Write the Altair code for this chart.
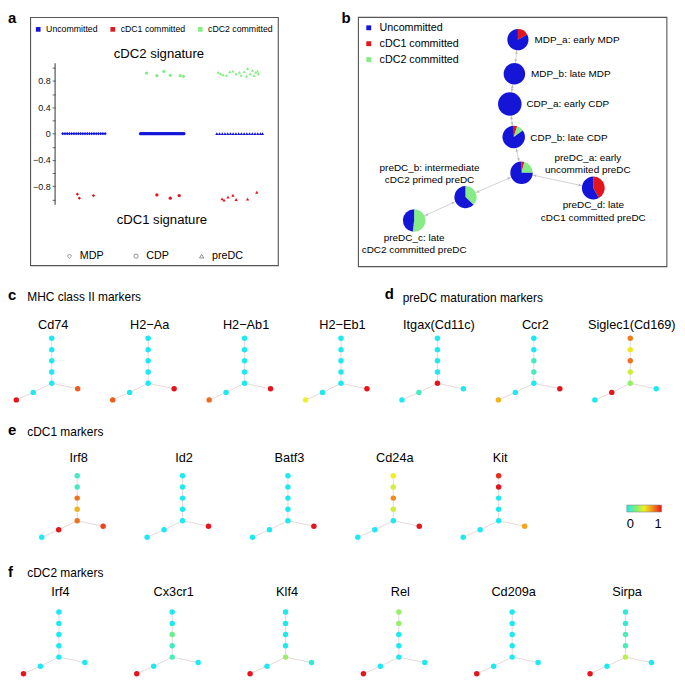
import math
import altair as alt
import pandas as pd

FONT = "Liberation Sans"
KX, KY = 0.985, 0.98

# ---------------- panel a : signature scores ----------------
COMMIT = ["Uncommitted", "cDC1 committed", "cDC2 committed"]
COMMIT_COLORS = ["#1515D8", "#E3141B", "#86EC86"]
STAGES = ["MDP", "CDP", "preDC"]
STAGE_SHAPES = ["diamond", "circle", "triangle-up"]

MDP_UNC_X = [13.0, 13.9, 14.8, 15.7, 16.6, 17.5, 18.4, 19.3, 20.2, 21.1, 22.0, 22.9,
             23.8, 24.7, 25.6, 26.5, 27.4, 28.3, 29.2, 30.1]
MDP_C1_X = [18.9, 19.7, 25.4]
MDP_C1_Y = [-0.92, -0.98, -0.94]
CDP_UNC_X = [44.4, 44.9, 45.4, 45.9, 46.4, 46.9, 47.4, 47.9, 48.4, 48.9, 49.4, 49.9,
             50.4, 50.9, 51.4, 51.9, 52.4, 52.9, 53.4, 53.9, 54.4, 54.9, 55.4, 55.9,
             56.4, 56.9, 57.4, 57.9, 58.4, 58.9, 59.4, 59.9, 60.4, 60.9, 61.4, 61.9]
CDP_C1_X = [51.0, 56.4, 60.0]
CDP_C1_Y = [-0.93, -0.98, -0.94]
CDP_C2_X = [46.8, 51.0, 53.8, 56.4, 60.4, 61.7]
CDP_C2_Y = [0.92, 0.88, 0.945, 0.885, 0.88, 0.87]
PRE_UNC_X = [75.2, 76.3, 77.4, 78.5, 79.6, 80.7, 81.8, 82.9, 84.0, 85.1, 86.2, 87.3,
             88.4, 89.5, 90.6, 91.7, 92.8, 93.6]
PRE_C1_X = [77.3, 78.1, 79.7, 81.7, 83.0, 87.6, 91.3]
PRE_C1_Y = [-0.99, -1.01, -0.965, -0.935, -1.0, -0.995, -0.89]
PRE_C2_X = [75.8, 76.7, 77.7, 79.1, 80.4, 81.7, 83.0, 84.3, 85.0, 86.3, 87.2, 87.6,
            88.7, 89.6, 90.2, 90.9, 91.6, 92.0]
PRE_C2_Y = [0.93, 0.91, 0.895, 0.885, 0.94, 0.95, 0.91, 0.93, 0.885, 0.94, 0.875, 0.99,
            0.91, 0.96, 0.88, 0.93, 0.95, 0.91]
SIG_TICKS = [-1.0, -0.8, -0.6, -0.4, -0.2, 0.0, 0.2, 0.4, 0.6, 0.8, 1.0]
SIG_TITLES = ["cDC2 signature", "cDC1 signature"]

# ---------------- panel b : lineage tree with pies ----------------
NODES = ["MDP_a", "MDP_b", "CDP_a", "CDP_b", "preDC_a", "preDC_b", "preDC_c", "preDC_d"]
NODE_X = [163.3, 159.7, 155.0, 159.0, 167.0, 109.7, 57.3, 240.3]   # graph layout
NODE_Y = [23.3, 58.3, 89.3, 123.3, 160.0, 185.0, 209.0, 175.7]
PARENT = [None, 0, 1, 2, 3, 4, 5, 4]
FRAC_C1 = [0.17, 0.0, 0.0, 0.05, 0.04, 0.0, 0.0, 0.42]
FRAC_C2 = [0.0, 0.0, 0.0, 0.10, 0.21, 0.37, 0.52, 0.0]
CELLS = [117, 121, 144, 132, 132, 128, 132, 137]
NODE_LABELS = ["MDP_a: early MDP", "MDP_b: late MDP", "CDP_a: early CDP", "CDP_b: late CDP",
               "preDC_a: early\nuncommited preDC", "preDC_b: intermediate\ncDC2 primed preDC",
               "preDC_c: late\ncDC2 committed preDC", "preDC_d: late\ncDC1 committed preDC"]

# ---------------- panels c-f : marker expression on the tree ----------------
TREE_X = [0, 0, 0, 0, 0, -18.9, -36.2, 26.5]
TREE_Y = [0, 11.6, 23.0, 34.5, 46.2, 55.5, 63.2, 51.8]
HEAT_STOPS = [0, 0.25, 0.5, 0.75, 1]
HEAT_COLORS = ["#1DE9F0", "#7EEF78", "#EFEF22", "#F48A1E", "#E6141C"]
HEAT_LABELS = [0, 1]

ROW_CD_GENES = ["Cd74", "H2\u2212Aa", "H2\u2212Ab1", "H2\u2212Eb1", "Itgax(Cd11c)", "Ccr2", "Siglec1(Cd169)"]
ROW_CD_VALUES = [
    [0, 0, 0, 0, 0, 0, 1.0, 0.85],
    [0, 0, 0, 0, 0, 0, 0.85, 1.0],
    [0, 0, 0, 0, 0, 0, 0.82, 1.0],
    [0, 0, 0, 0, 0, 0, 0.5, 1.0],
    [0, 0, 0, 0, 1.0, 0.1, 0, 0],
    [0, 0, 0.1, 0.1, 0, 0, 0.65, 1.0],
    [0.78, 0.52, 0.8, 0.42, 0.3, 1.0, 0, 0],
]
ROW_E_GENES = ["Irf8", "Id2", "Batf3", "Cd24a", "Kit"]
ROW_E_VALUES = [
    [0.1, 0.1, 0.8, 0.65, 0.8, 1.0, 0, 0.9],
    [0, 0, 0, 0, 0, 0, 0, 1.0],
    [0, 0, 0, 0, 0, 0, 0, 1.0],
    [0.5, 0.43, 0.75, 0.43, 0, 0, 0, 1.0],
    [0.95, 1.0, 0, 0, 0, 0, 0, 0.68],
]
ROW_F_GENES = ["Irf4", "Cx3cr1", "Klf4", "Rel", "Cd209a", "Sirpa"]
ROW_F_VALUES = [
    [0, 0, 0, 0, 0, 0, 1.0, 0],
    [0, 0, 0.2, 0.1, 0.12, 0, 1.0, 0],
    [0, 0, 0, 0, 0.3, 0, 1.0, 0.05],
    [0.3, 0.3, 0, 0, 0, 0, 1.0, 0],
    [0, 0, 0, 0, 0, 0, 1.0, 0],
    [0.05, 0.05, 0.12, 0.12, 0.38, 0, 1.0, 0],
]
SECTION_TITLES = {"c": "MHC class II markers", "d": "preDC maturation markers",
                  "e": "cDC1 markers", "f": "cDC2 markers"}

COMMIT_SCALE = alt.Scale(domain=COMMIT, range=COMMIT_COLORS)
HEAT = alt.Scale(domain=HEAT_STOPS, range=HEAT_COLORS, interpolate="rgb")
BOX = "#555555"


def txt(s):
    return pd.DataFrame({"t": [s]})


def letter(s, x, y):
    return alt.Chart(txt(s)).mark_text(
        align="left", baseline="alphabetic", fontSize=15, fontWeight="bold", font=FONT
    ).encode(text="t:N", x=alt.value(x), y=alt.value(y))


# ======== panel a ========
rows = []
def add(stage, commit, xs, ys):
    for xv, yv in zip(xs, ys):
        rows.append(dict(stage=stage, commit=commit, x=xv, y=yv))

add("MDP", "Uncommitted", MDP_UNC_X, [0.0] * len(MDP_UNC_X))
add("MDP", "cDC1 committed", MDP_C1_X, MDP_C1_Y)
add("CDP", "Uncommitted", CDP_UNC_X, [0.0] * len(CDP_UNC_X))
add("CDP", "cDC1 committed", CDP_C1_X, CDP_C1_Y)
add("CDP", "cDC2 committed", CDP_C2_X, CDP_C2_Y)
add("preDC", "Uncommitted", PRE_UNC_X, [0.0] * len(PRE_UNC_X))
add("preDC", "cDC1 committed", PRE_C1_X, PRE_C1_Y)
add("preDC", "cDC2 committed", PRE_C2_X, PRE_C2_Y)
df_a = pd.DataFrame(rows)

LEFT_A = 22.7            # room for the panel letter, left of the frame
BOX_W, H_A = 249.2, 250.8
W_A = LEFT_A + BOX_W
PX_PER_UNIT = BOX_W / 100
AXIS_X = 9.9
xa = alt.Scale(domain=[-LEFT_A / PX_PER_UNIT, 100], nice=False, zero=False)
ya = alt.Scale(domain=[-2.014, 1.772], nice=False, zero=False)
AX_A = alt.Axis(values=SIG_TICKS,
                labelExpr="abs(round(datum.value*10)) % 4 == 0 ? format(datum.value, '.1~f') : ''",
                offset=-(LEFT_A + AXIS_X * PX_PER_UNIT), domain=False, grid=False, tickSize=3,
                tickColor="#444", tickWidth=0.8, labelFontSize=9, labelFont=FONT,
                labelPadding=2, title=None, labelColor="#111")

frame_a = alt.Chart(pd.DataFrame({"x0": [0], "x1": [100]})).mark_rect(
    fillOpacity=0, stroke=BOX, strokeWidth=1.1).encode(
    x=alt.X("x0:Q", scale=xa, axis=None), x2="x1:Q", y=alt.value(0.6), y2=alt.value(H_A - 0.6))

points = alt.Chart(df_a).mark_point(filled=True, size=11, opacity=1).encode(
    x=alt.X("x:Q", scale=xa, axis=None),
    y=alt.Y("y:Q", scale=ya, axis=AX_A),
    color=alt.Color("commit:N", scale=COMMIT_SCALE, legend=alt.Legend(
        orient="none", legendX=LEFT_A + 3.3, legendY=7.7, direction="horizontal", columns=3,
        title=None, symbolType="square", symbolSize=22, labelFontSize=8.8, labelFont=FONT,
        columnPadding=10, labelOffset=3.5, symbolStrokeWidth=0)),
    shape=alt.Shape("stage:N", scale=alt.Scale(domain=STAGES, range=STAGE_SHAPES), legend=alt.Legend(
        orient="none", legendX=LEFT_A + 33.7, legendY=234.8, direction="horizontal", columns=3,
        title=None, symbolSize=18, symbolFillColor="white", symbolStrokeColor="#777",
        symbolStrokeWidth=0.8, labelFontSize=10.8, labelFont=FONT, columnPadding=27,
        labelOffset=5)),
)
axis_line = alt.Chart(pd.DataFrame({"ax": [AXIS_X], "y0": [-1.08], "y1": [1.07]})).mark_rule(
    color="#444", strokeWidth=1.1).encode(
    x=alt.X("ax:Q", scale=xa, axis=None), y=alt.Y("y0:Q", scale=ya, axis=AX_A), y2="y1:Q")


def sig_title(s, xv, yv):
    d = pd.DataFrame({"t": [s], "x": [xv], "y": [yv]})
    return alt.Chart(d).mark_text(fontSize=13.2, font=FONT, baseline="middle").encode(
        text="t:N", x=alt.X("x:Q", scale=xa, axis=None), y=alt.Y("y:Q", scale=ya, axis=AX_A))


panel_a = alt.layer(
    frame_a, axis_line, points,
    sig_title(SIG_TITLES[0], 51.8, 1.213),
    sig_title(SIG_TITLES[1], 53.0, -1.317),
    letter("a", 0, 6),
).properties(width=W_A, height=H_A)

# ======== panel b ========
W_B, H_B = 310.3, 250.8
xb = alt.Scale(domain=[0, 315], nice=False, zero=False)
yb = alt.Scale(domain=[0, 256], nice=False, zero=False, reverse=True)
R_MAX = 11.8

pie_rows, edge_rows, arrow_rows = [], [], []
for i, n in enumerate(NODES):
    fr = [FRAC_C1[i], FRAC_C2[i], 1 - FRAC_C1[i] - FRAC_C2[i]]
    start = 0.0
    for c, f in zip(["cDC1 committed", "cDC2 committed", "Uncommitted"], fr):
        if f > 0:
            pie_rows.append(dict(node=n, commit=c, t0=2 * math.pi * start,
                                 t1=2 * math.pi * (start + f), x=NODE_X[i], y=NODE_Y[i],
                                 cells=CELLS[i]))
        start += f
    p = PARENT[i]
    if p is not None:
        edge_rows.append(dict(x=NODE_X[i], y=NODE_Y[i], px=NODE_X[p], py=NODE_Y[p]))
        dx, dy = NODE_X[i] - NODE_X[p], NODE_Y[i] - NODE_Y[p]
        d = math.hypot(dx, dy)
        ux, uy = dx / d, dy / d
        for tgt, sgn in ((i, -1), (p, 1)):
            r = R_MAX * math.sqrt(CELLS[tgt] / 144) + 3
            ax_ = NODE_X[tgt] + sgn * ux * r
            ay_ = NODE_Y[tgt] + sgn * uy * r
            vx, vy = -sgn * ux, -sgn * uy   # direction the arrow points
            ang = (math.degrees(math.atan2(vx, -vy)) + 360) % 360
            arrow_rows.append(dict(x=ax_, y=ay_, ang=ang))

df_pie = pd.DataFrame(pie_rows)
df_edge = pd.DataFrame(edge_rows)
df_arrow = pd.DataFrame(arrow_rows)
df_nodes = pd.DataFrame({"node": NODES, "x": NODE_X, "y": NODE_Y, "label": NODE_LABELS})

XB = lambda: alt.X("x:Q", scale=xb, axis=None)
YB = lambda: alt.Y("y:Q", scale=yb, axis=None)

edges_b = alt.Chart(df_edge).mark_rule(color="#D2D2D2", strokeWidth=1).encode(
    x=XB(), y=YB(), x2="px:Q", y2="py:Q")
arrows_b = alt.Chart(df_arrow).mark_point(shape="triangle", filled=True, size=9,
                                          color="#B8B8B8", opacity=1).encode(
    x=XB(), y=YB(), angle=alt.Angle("ang:Q", scale=None))
pies = alt.Chart(df_pie).mark_arc().encode(
    x=XB(), y=YB(),
    theta=alt.Theta("t0:Q", scale=None), theta2="t1:Q",
    radius=alt.Radius("cells:Q", scale=alt.Scale(type="sqrt", domain=[0, 144], range=[0, R_MAX])),
    color=alt.Color("commit:N", scale=COMMIT_SCALE, legend=alt.Legend(
        orient="none", legendX=5.4, legendY=5.5, direction="vertical", title=None,
        symbolType="square", symbolSize=24, labelFontSize=10.8, labelFont=FONT,
        rowPadding=4, labelOffset=5.5, symbolStrokeWidth=0)),
)


def node_labels(names, **kw):
    return alt.Chart(df_nodes).transform_filter(
        alt.FieldOneOfPredicate(field="node", oneOf=names)
    ).mark_text(fontSize=10, font=FONT, lineBreak="\n", lineHeight=12.3, **kw).encode(
        x=XB(), y=YB(), text="label:N")


panel_b = alt.layer(
    edges_b, arrows_b, pies,
    node_labels(NODES[:4], align="left", baseline="middle", dx=16.7, dy=0.5),
    node_labels(["preDC_a"], align="center", baseline="top", dx=66.7, dy=-19.6),
    node_labels(["preDC_b"], align="center", baseline="top", dx=-36.1, dy=-34),
    node_labels(["preDC_c", "preDC_d"], align="center", baseline="top", dx=0, dy=12.5),
    letter("b", -16.7, 6),
).properties(width=W_B, height=H_B, view=alt.ViewBackground(stroke=BOX, strokeWidth=1.1))

row1 = alt.hconcat(panel_a, panel_b, spacing=61.1).resolve_scale(color="independent", shape="independent")


# ======== small trees ========
def tree_df(vals):
    r = []
    for i in range(8):
        p = PARENT[i]
        r.append(dict(node=NODES[i], x=TREE_X[i], y=TREE_Y[i],
                      px=TREE_X[p] if p is not None else None,
                      py=TREE_Y[p] if p is not None else None, value=vals[i]))
    return pd.DataFrame(r)


def tree_chart(gene, vals, W, H, t_x, t_y, title_y, legend=None):
    df = tree_df(vals)
    xs = alt.Scale(domain=[-t_x / KX, (W - t_x) / KX], nice=False, zero=False)
    ys = alt.Scale(domain=[-t_y / KY, (H - t_y) / KY], nice=False, zero=False, reverse=True)
    base = alt.Chart(df)
    X = alt.X("x:Q", scale=xs, axis=None)
    Y = alt.Y("y:Q", scale=ys, axis=None)
    edges = base.transform_filter("isValid(datum.px)").mark_rule(
        color="#E2D5D5", strokeWidth=0.9).encode(x=X, y=Y, x2="px:Q", y2="py:Q")
    nodes = base.mark_circle(size=30, opacity=1).encode(
        x=X, y=Y, color=alt.Color("value:Q", scale=HEAT, legend=legend))
    title = alt.Chart(txt(gene)).mark_text(fontSize=12.8, font=FONT, baseline="middle",
                                           align="center").encode(
        text="t:N", x=alt.value(t_x + 1.5), y=alt.value(title_y))
    return alt.layer(edges, nodes, title).properties(width=W, height=H)


def tree_row(genes, values, step, t_x, H, t_y, title_y, total=669, legend_last=None):
    charts = []
    n = len(genes)
    for k, (g, v) in enumerate(zip(genes, values)):
        W = step
        if k == n - 1:
            W = min(step, total - step * (n - 1)) if legend_last is None else step
        charts.append(tree_chart(g, v, W, H, t_x, t_y, title_y,
                                 legend=legend_last if k == n - 1 else None))
    return alt.hconcat(*charts, spacing=0).resolve_scale(color="independent")


def header(H, items):
    layers = []
    for s, x, y, bold in items:
        if bold:
            layers.append(letter(s, x, y))
        else:
            layers.append(alt.Chart(txt(s)).mark_text(
                align="left", baseline="alphabetic", fontSize=12, font=FONT
            ).encode(text="t:N", x=alt.value(x), y=alt.value(y)))
    return alt.layer(*layers).properties(width=669, height=H)


hdr_cd = header(43.3, [("c", 0, 32.8, True), (SECTION_TITLES["c"], 19.4, 33.3, False),
                       ("d", 379, 31.5, True), (SECTION_TITLES["d"], 397, 34.3, False)])
row_cd = tree_row(ROW_CD_GENES, ROW_CD_VALUES, 96.4, 44.0, 95, 27.3, 13.6)
hdr_e = header(40, [("e", 0, 30, True), (SECTION_TITLES["e"], 19.4, 30.3, False)])
heat_legend = alt.Legend(orient="none", legendX=198.5, legendY=60, direction="horizontal",
                         gradientLength=35, gradientThickness=7, values=HEAT_LABELS, title=None,
                         format=".0f", labelFontSize=13, labelFont=FONT, labelOffset=6,
                         labelAlign="center", gradientStrokeColor="#888",
                         gradientStrokeWidth=0.6)
row_e = tree_row(ROW_E_GENES, ROW_E_VALUES, 105.2, 69.6, 98, 30.5, 12.9, legend_last=heat_legend)
hdr_f = header(40, [("f", 0, 34.4, True), (SECTION_TITLES["f"], 19.4, 34.6, False)])
row_f = tree_row(ROW_F_GENES, ROW_F_VALUES, 113.2, 51.2, 96, 29.7, 10.0)

chart = alt.vconcat(row1, hdr_cd, row_cd, hdr_e, row_e, hdr_f, row_f, spacing=0).resolve_scale(
    color="independent", shape="independent"
).properties(padding=0, background="white").configure(
    font=FONT, view=alt.ViewConfig(stroke="transparent", strokeWidth=0))

chart.save("out.html", embed_options={"renderer": "svg", "actions": False})
